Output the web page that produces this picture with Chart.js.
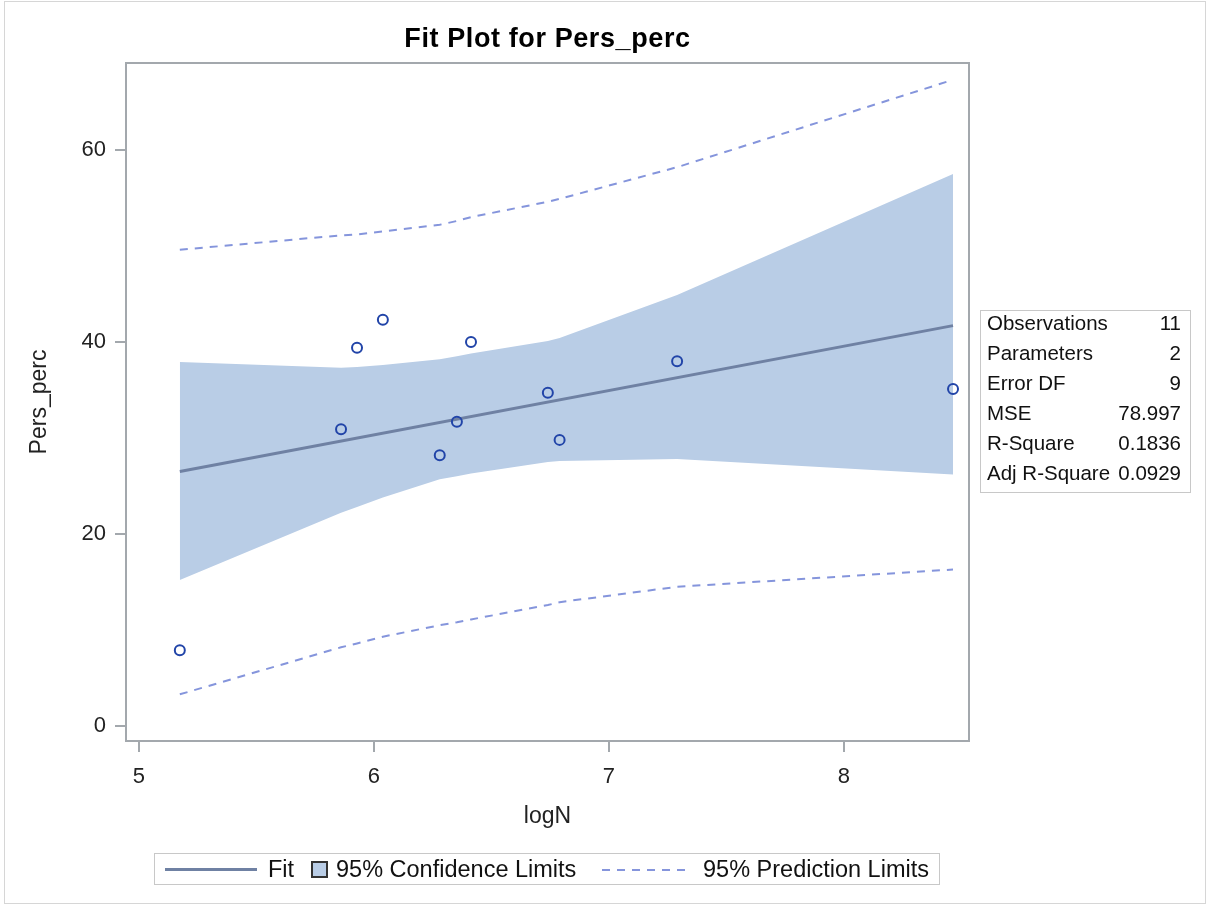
<!DOCTYPE html>
<html>
<head>
<meta charset="utf-8">
<script src="https://cdn.jsdelivr.net/npm/chart.js@4"></script>
<style>
  body { margin: 0; background: #fff; font-family: "Liberation Sans", Arial, sans-serif; }
  #wrap { position: relative; width: 1211px; height: 906px; }
  #frame { position: absolute; left: 4px; top: 1px; width: 1202px; height: 903px; border: 1px solid #d6d6d6; box-sizing: border-box; }
  #chart { position: absolute; left: 0; top: 0; }
  #title { position: absolute; left: 126px; width: 843px; top: 23px; text-align: center; font-weight: bold; font-size: 27px; letter-spacing: 0.6px; color: #000; }
  #stats { position: absolute; left: 980px; top: 310px; width: 211px; height: 183px; border: 1px solid #c8c8c8; box-sizing: border-box; font-size: 20.5px; color: #111; }
  #stats .rows { position: relative; top: -3px; padding: 0 9px 0 6px; }
  #stats .row { display: flex; justify-content: space-between; height: 30px; line-height: 30px; }
  #legend { position: absolute; left: 154px; top: 853px; width: 786px; height: 32px; border: 1px solid #c8c8c8; box-sizing: border-box; font-size: 23.5px; color: #111; }
  #legend .txt { position: absolute; top: 0; line-height: 30px; }
  #legend .fit { position: absolute; left: 10px; top: 14px; width: 92px; height: 3px; background: #6f81a3; }
  #legend .box { position: absolute; left: 156px; top: 7px; width: 17px; height: 17px; background: #b9cde6; border: 2px solid #333; box-sizing: border-box; }
  #legend .dash { position: absolute; left: 447px; top: 15px; width: 84px; height: 2px;
    background: repeating-linear-gradient(to right, #8595dc 0 8px, transparent 8px 15px); }
</style>
</head>
<body>
<div id="wrap">
  <div id="frame"></div>
  <canvas id="chart" width="1211" height="906"></canvas>
  <div id="title">Fit Plot for Pers_perc</div>
  <div id="stats"><div class="rows" id="statRows"></div></div>
  <div id="legend">
    <div class="fit"></div>
    <div class="txt" style="left:113px">Fit</div>
    <div class="box"></div>
    <div class="txt" style="left:181px">95% Confidence Limits</div>
    <div class="dash"></div>
    <div class="txt" style="left:548px">95% Prediction Limits</div>
  </div>
</div>
<script>
// observed points
const logN = [5.174, 5.86, 5.928, 6.038, 6.28, 6.353, 6.413, 6.74, 6.79, 7.29, 8.464];
const persPerc = [7.9, 30.9, 39.4, 42.3, 28.2, 31.7, 40.0, 34.7, 29.8, 38.0, 35.1];

// fitted line (end points)
const fitX = [5.174, 8.464];
const fitY = [26.5, 41.7];

// limits, read at the observed logN values
const clUpper = [37.9, 37.3, 37.4, 37.6, 38.2, 38.5, 38.8, 40.1, 40.4, 44.9, 57.5];
const clLower = [15.2, 22.2, 22.8, 23.8, 25.7, 26.0, 26.3, 27.5, 27.6, 27.8, 26.2];
const plUpper = [49.6, 51.1, 51.2, 51.5, 52.2, 52.6, 53.0, 54.6, 54.9, 58.2, 67.3];
const plLower = [3.3, 8.2, 8.6, 9.3, 10.5, 10.8, 11.1, 12.6, 12.9, 14.5, 16.3];

const xTicks = [5, 6, 7, 8];
const yTicks = [0, 20, 40, 60];

const statLabels = ['Observations', 'Parameters', 'Error DF', 'MSE', 'R-Square', 'Adj R-Square'];
const statValues = ['11', '2', '9', '78.997', '0.1836', '0.0929'];

function pts(xs, ys) { return xs.map((x, i) => ({x, y: ys[i]})); }

const rows = document.getElementById('statRows');
statLabels.forEach((lab, i) => {
  const r = document.createElement('div');
  r.className = 'row';
  r.innerHTML = '<span>' + lab + '</span><span>' + statValues[i] + '</span>';
  rows.appendChild(r);
});

const axisGray = '#a3a8ad';
const fontFam = '"Liberation Sans", Arial, sans-serif';

const frameBox = {
  id: 'frameBox',
  afterDatasetsDraw(chart) {
    const a = chart.chartArea;
    const ctx = chart.ctx;
    ctx.save();
    ctx.strokeStyle = axisGray;
    ctx.lineWidth = 2;
    ctx.strokeRect(a.left, a.top, a.right - a.left, a.bottom - a.top);
    ctx.restore();
  }
};

const lineDs = (data, extra) => Object.assign({
  type: 'line', data, pointRadius: 0, borderWidth: 0, tension: 0, fill: false
}, extra);

new Chart(document.getElementById('chart').getContext('2d'), {
  type: 'scatter',
  data: {
    datasets: [
      {
        data: pts(logN, persPerc),
        pointStyle: 'circle', pointRadius: 5, borderWidth: 2,
        borderColor: '#2144a8', backgroundColor: 'rgba(0,0,0,0)', order: 0
      },
      lineDs(pts(fitX, fitY), { borderColor: '#6f81a3', borderWidth: 3, order: 1 }),
      lineDs(pts(logN, plUpper), { borderColor: '#8595dc', borderWidth: 2, borderDash: [8, 7], order: 2 }),
      lineDs(pts(logN, plLower), { borderColor: '#8595dc', borderWidth: 2, borderDash: [8, 7], order: 2 }),
      lineDs(pts(logN, clUpper), { fill: '+1', backgroundColor: '#b9cde6', order: 3 }),
      lineDs(pts(logN, clLower), { order: 3 }),
    ],
  },
  options: {
    responsive: false,
    animation: false,
    layout: { padding: { left: 0, top: 63, right: 242, bottom: 65 } },
    plugins: { legend: { display: false }, tooltip: { enabled: false } },
    scales: {
      x: {
        type: 'linear', min: 4.945, max: 8.532,
        afterBuildTicks: s => { s.ticks = xTicks.map(v => ({value: v})); },
        afterFit: s => { s.height = 100; },
        grid: { drawOnChartArea: false, color: axisGray, tickLength: 11, lineWidth: 2 },
        border: { display: false },
        ticks: { color: '#222', padding: 12, maxRotation: 0, font: { family: fontFam, size: 22 } },
        title: { display: true, text: 'logN', color: '#222', padding: { top: 0, bottom: 11 }, font: { family: fontFam, size: 23 } },
      },
      y: {
        type: 'linear', min: -1.56, max: 69.05,
        afterBuildTicks: s => { s.ticks = yTicks.map(v => ({value: v})); },
        afterFit: s => { s.width = 126; },
        grid: { drawOnChartArea: false, color: axisGray, tickLength: 11, lineWidth: 2 },
        border: { display: false },
        ticks: { color: '#222', padding: 9, font: { family: fontFam, size: 22 } },
        title: { display: true, text: 'Pers_perc', color: '#222', padding: { top: 26, bottom: 0 }, font: { family: fontFam, size: 23 } },
      },
    },
  },
  plugins: [frameBox],
});
</script>
</body>
</html>
